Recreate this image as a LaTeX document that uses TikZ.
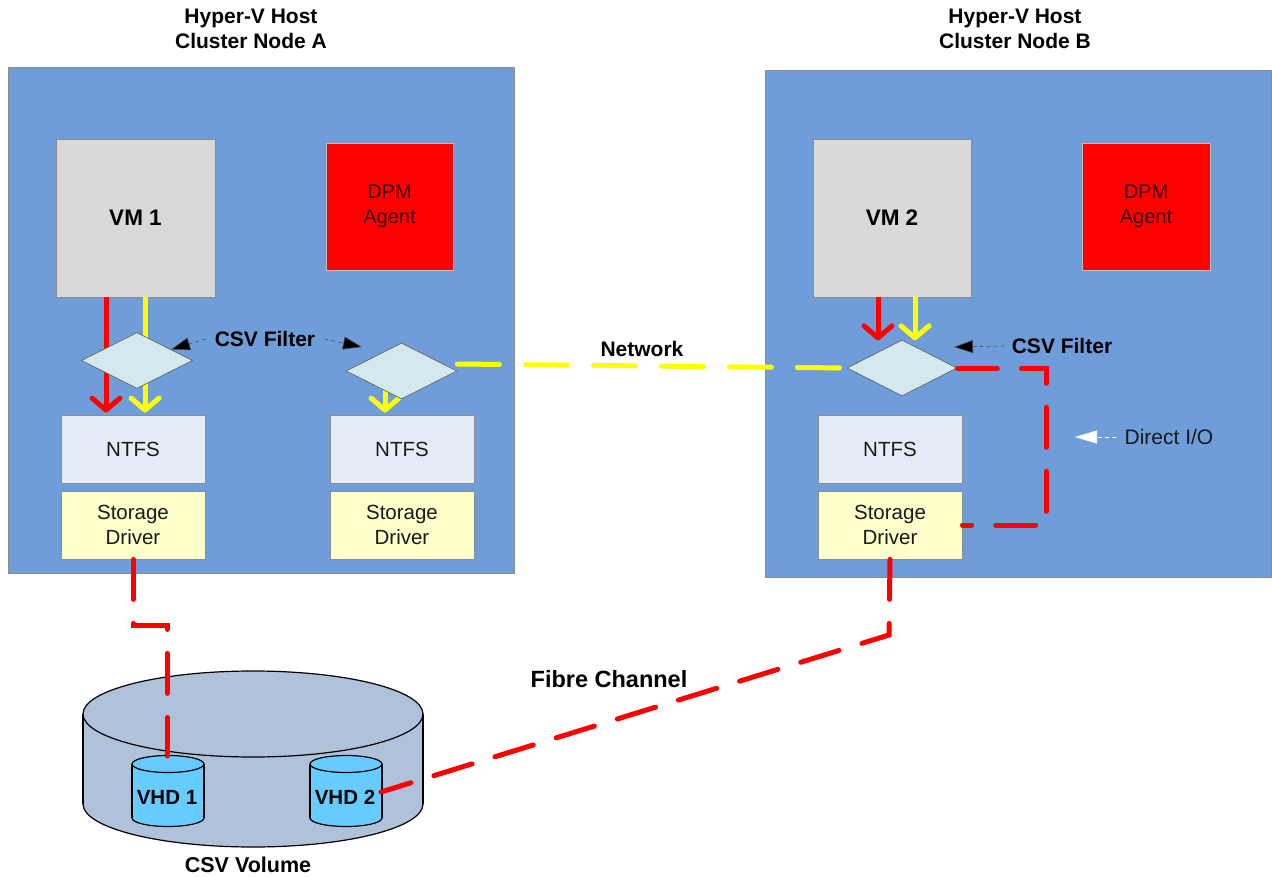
\documentclass[tikz,border=0pt]{standalone}
\usepackage{fontspec}
\setmainfont{Liberation Sans}
\usetikzlibrary{shapes.geometric,arrows.meta}
\definecolor{hostblue}{HTML}{6F9DD9}
\definecolor{vmgray}{HTML}{D9D9D9}
\definecolor{diafill}{HTML}{D3E9EE}
\definecolor{ntfsfill}{HTML}{E5EBF7}
\definecolor{sdfill}{HTML}{FFFFCC}
\definecolor{dpmtext}{HTML}{3A0000}
\definecolor{cylfill}{HTML}{B0C1DA}
\definecolor{vhdfill}{HTML}{66CCFF}
\definecolor{ioyellow}{HTML}{FFFF00}
\definecolor{iored}{HTML}{FF0000}
\begin{document}
\begin{tikzpicture}[x=1pt,y=-1pt,
  hostbox/.style={draw=black!45, fill=hostblue, line width=0.8pt, minimum width=506pt, minimum height=506pt, inner sep=0pt},
  vmbox/.style={draw=black!45, fill=vmgray, line width=0.8pt, minimum width=159pt, minimum height=158pt, inner sep=0pt, font=\fontsize{22.5}{26}\selectfont\bfseries},
  dpmbox/.style={draw=black!25, fill=iored, line width=0.6pt, minimum width=127pt, minimum height=127pt, inner sep=0pt, text=dpmtext, align=center, font=\fontsize{20}{25}\selectfont},
  ntfsbox/.style={draw=black!45, fill=ntfsfill, line width=0.8pt, minimum width=144pt, minimum height=68pt, inner sep=0pt, text=black!90, font=\fontsize{20.5}{25}\selectfont},
  sdbox/.style={draw=black!45, fill=sdfill, line width=0.8pt, minimum width=144pt, minimum height=68pt, inner sep=0pt, text=black!90, align=center, font=\fontsize{20.5}{25}\selectfont},
  filterdia/.style={diamond, draw=black!60, fill=diafill, line width=0.7pt, minimum width=111pt, minimum height=56pt, inner sep=0pt},
  titletext/.style={align=center, font=\fontsize{21}{25}\selectfont\bfseries},
  boldlabel/.style={font=\fontsize{21}{24}\selectfont\bfseries},
  redarrow/.style={draw=iored, line width=5pt, -{Straight Barb[length=12pt,width=28pt,round]}},
  yelarrow/.style={draw=ioyellow, line width=5pt, -{Straight Barb[length=12pt,width=28pt,round]}},
  reddash/.style={draw=iored, line width=5pt, line cap=round, dash pattern=on 40pt off 24pt},
  yeldash/.style={draw=ioyellow, line width=5pt, line cap=round, dash pattern=on 42pt off 26pt},
  filterarrow/.style={draw=black!70, line width=0.6pt, dash pattern=on 4pt off 3pt, -{Triangle[length=19pt,width=13pt,fill=black]}},
  cylline/.style={draw=black, line width=1.2pt}
]
\useasboundingbox (0,0) rectangle (1272,877);
\fill[white] (0,0) rectangle (1272,877);

% titles
\node[titletext] (titleA) at (251,29) {Hyper-V Host\\Cluster Node A};
\node[titletext] (titleB) at (1015,29) {Hyper-V Host\\Cluster Node B};

% hosts
\node[hostbox] (hostA) at (261,320) {};
\node[hostbox, minimum height=507pt] (hostB) at (1018,323.5) {};

% VMs and DPM agents
\node[vmbox] (vm1) at (135.5,218) {VM 1};
\node[vmbox, minimum width=158pt] (vm2) at (892,218) {VM 2};
\node[dpmbox] (dpmA) at (389.5,206.5) {DPM\\Agent};
\node[dpmbox, minimum width=128pt] (dpmB) at (1146,206.5) {DPM\\Agent};

% NTFS and storage driver boxes
\node[ntfsbox] (ntfsA) at (133,449) {NTFS};
\node[sdbox] (sdA) at (133,525) {Storage\\Driver};
\node[ntfsbox] (ntfsM) at (402,449) {NTFS};
\node[sdbox] (sdM) at (402,525) {Storage\\Driver};
\node[ntfsbox] (ntfsB) at (890,449) {NTFS};
\node[sdbox] (sdB) at (890,525) {Storage\\Driver};

% diamond positions (drawn later, on top)
\path (137,360.5) coordinate (dAc) (401.5,371) coordinate (dMc) (902,368) coordinate (dBc);

% arrows behind the diamonds
\draw[redarrow] ([xshift=-29.5pt]vm1.south) -- ([xshift=-27pt,yshift=2pt]ntfsA.north);
\draw[yelarrow] ([xshift=9.5pt]vm1.south) -- ([xshift=12pt,yshift=2pt]ntfsA.north);
\draw[yelarrow] ([xshift=-16.5pt]dMc) -- ([xshift=-17pt,yshift=2pt]ntfsM.north);
\draw[redarrow] ([xshift=-14pt]vm2.south) -- ++(0,43);
\draw[yelarrow] ([xshift=23pt]vm2.south) -- ++(0,43);

% diamonds (CSV filters)
\node[filterdia] (dA) at (dAc) {};
\node[filterdia] (dM) at (dMc) {};
\node[filterdia, minimum width=110pt] (dB) at (dBc) {};

% network (yellow dashed)
\draw[yeldash] ([yshift=7pt]dM.east) -- (dB.west);
\node[boldlabel] (net) at (642,349) {Network};

% direct I/O (red dashed)
\coordinate (dio) at (1046,368);
\draw[reddash] (dB.east) -- (dio) |- (sdB.east);

% CSV filter labels and pointers
\node[boldlabel, inner xsep=9pt] (csvA) at (265,339) {CSV Filter};
\coordinate (ftipM) at (362,347);
\draw[filterarrow] (csvA.west) -- (dA.18);
\draw[filterarrow] (csvA.east) -- (ftipM);
\node[boldlabel, inner xsep=1pt] (csvB) at (1062,346) {CSV Filter};
\coordinate (ftipB) at (954,347);
\draw[filterarrow] ([xshift=-6pt]csvB.west) -- (ftipB);

\node[font=\fontsize{21}{24}\selectfont, text=black!90, inner xsep=8pt] (dioL) at (1169,437) {Direct I/O};
\coordinate (diotip) at (1075,437);
\draw[draw=white, line width=0.6pt, dash pattern=on 4pt off 3pt, -{Triangle[length=22pt,width=13pt,fill=white]}] (dioL.west) -- (diotip);

% CSV volume (big cylinder)
\filldraw[fill=cylfill, cylline] (253,804) ellipse [x radius=170pt, y radius=43pt];
\fill[cylfill] (83,714) rectangle (423,804);
\draw[cylline] (83,714) -- (83,804) (423,714) -- (423,804);
\filldraw[fill=cylfill, cylline] (253,714) ellipse [x radius=170pt, y radius=43pt];

% VHD 1
\filldraw[fill=vhdfill, cylline] (168,818) ellipse [x radius=36pt, y radius=8.5pt];
\fill[vhdfill] (132,764) rectangle (204,818);
\draw[cylline] (132,764) -- (132,818) (204,764) -- (204,818);
\filldraw[fill=vhdfill, cylline] (168,764) ellipse [x radius=36pt, y radius=8.5pt];
\node[boldlabel, font=\fontsize{20.5}{24}\selectfont\bfseries] (vhd1) at (167,797) {VHD 1};
% VHD 2
\filldraw[fill=vhdfill, cylline] (346,818) ellipse [x radius=36pt, y radius=8.5pt];
\fill[vhdfill] (310,764) rectangle (382,818);
\draw[cylline] (310,764) -- (310,818) (382,764) -- (382,818);
\filldraw[fill=vhdfill, cylline] (346,764) ellipse [x radius=36pt, y radius=8.5pt];
\node[boldlabel, font=\fontsize{20.5}{24}\selectfont\bfseries] (vhd2) at (345,797) {VHD 2};

\node[boldlabel, font=\fontsize{21.5}{24}\selectfont\bfseries] (vol) at (248,865) {CSV Volume};

% fibre channel (red dashed)
\coordinate (fa) at (167,625);
\coordinate (vhd1top) at (167,756);
\draw[reddash] (sdA.south) |- (fa) -- (vhd1top);
\coordinate (fb) at (889,635);
\coordinate (vhd2e) at (381,792);
\draw[reddash] (sdB.south) -- (fb) -- (vhd2e);
\node[boldlabel, font=\fontsize{23.5}{26}\selectfont\bfseries] (fc) at (609,679) {Fibre Channel};
\end{tikzpicture}
\end{document}
